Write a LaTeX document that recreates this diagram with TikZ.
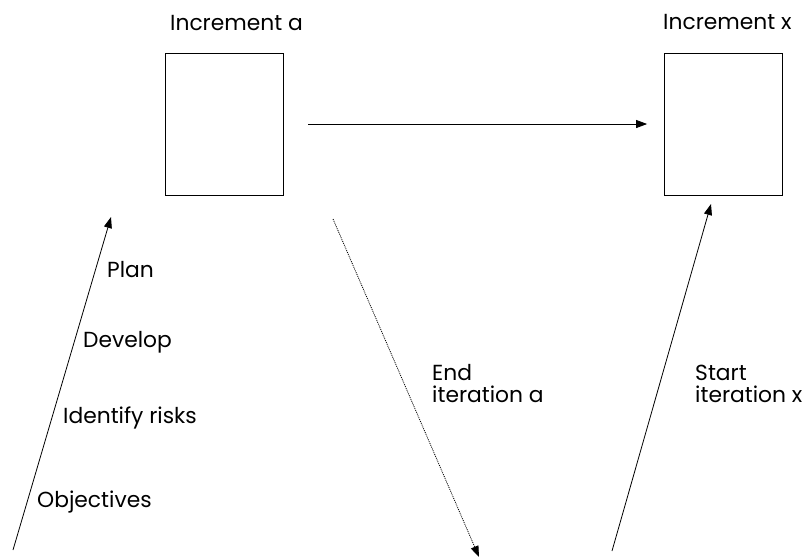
\documentclass[tikz,border=0pt]{standalone}
\usepackage{fontspec}
\setmainfont{Poppins}
\usetikzlibrary{arrows.meta}
\begin{document}
\begin{tikzpicture}[x=1pt,y=-1pt,
    incbox/.style={draw,line width=0.8pt,minimum width=118pt,minimum height=142pt,inner sep=0pt},
    lbl/.style={anchor=west,inner sep=0pt,font=\fontsize{21.8}{22}\selectfont,align=left},
    conn/.style={line width=0.8pt,-{Triangle[length=11pt,width=8pt]}}]
                \useasboundingbox (0,0) rectangle (811,558);
                \node[incbox] (boxA) at (224,124) {};
                \node[incbox] (boxX) at (723.5,124) {};
                \node[lbl] (titleA) at (170,23) {Increment a};
                \node[lbl] (titleX) at (663,22) {Increment x};
                \draw[conn,shorten <=25pt,shorten >=17pt] (boxA) -- (boxX);
                \coordinate (L0) at (13,550);
                \coordinate (L1) at (111,217);
                \draw[conn] (L0) -- (L1);
                \node[lbl] (plan) at (107,270) {Plan};
                \node[lbl] (develop) at (83,342) {Develop};
                \node[lbl] (risks) at (63,418) {Identify risks};
                \node[lbl] (objectives) at (37,502) {Objectives};
                \coordinate (E0) at (333,219);
                \coordinate (E1) at (479,557);
                \draw[conn,dash pattern=on 1pt off 1pt] (E0) -- (E1);
                \node[lbl] (endit) at (432,384) {End\\iteration a};
                \coordinate (S0) at (612,551);
                \coordinate (S1) at (711,204);
                \draw[conn] (S0) -- (S1);
                \node[lbl] (startit) at (695,384) {Start\\iteration x};
            \end{tikzpicture}
\end{document}
